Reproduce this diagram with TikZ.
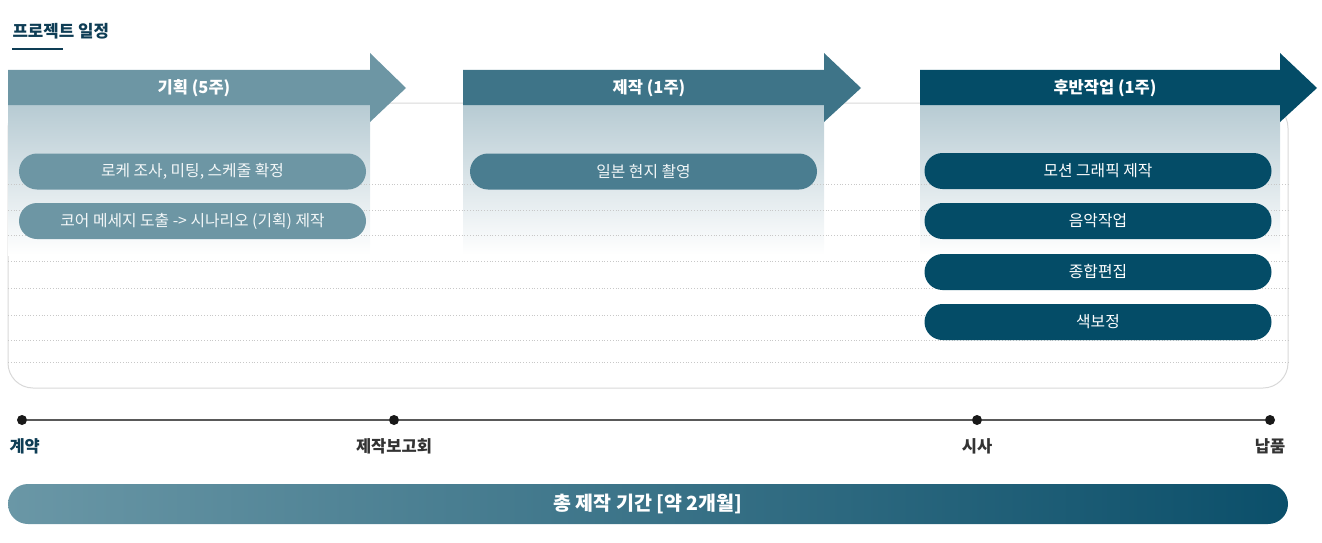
\documentclass[tikz,border=0pt]{standalone}
\usepackage{fontspec}
\setmainfont{Noto Sans CJK KR}
\usepackage{xcolor}
\usepackage{tikz}
\usetikzlibrary{calc, positioning}

\definecolor{planc}{HTML}{6D96A4}
\definecolor{shootc}{HTML}{3E7488}
\definecolor{shootp}{HTML}{4A7D90}
\definecolor{postc}{HTML}{044C67}
\definecolor{titlec}{HTML}{0E3D55}
\definecolor{panelc}{HTML}{B7CBD3}
\definecolor{framec}{HTML}{D8D8D8}
\definecolor{dotc}{HTML}{C8C8C8}
\definecolor{barl}{HTML}{6A97A6}
\definecolor{barr}{HTML}{0B4F6A}

\tikzset{
    phase/.style={font=\bfseries\fontsize{16.5}{19}\selectfont, text=white},
    task/.style={rounded corners=18pt, minimum width=347pt, minimum height=36pt,
        inner sep=0pt, font=\fontsize{15.8}{18}\selectfont, text=white},
    mdot/.style={circle, fill=black!90, minimum size=10pt, inner sep=0pt},
    mile/.style={font=\bfseries\fontsize{16.5}{19}\selectfont, text=black!80},
    grid line/.style={dotc, line width=0.8pt, dotted}
}

\begin{document}
\begin{tikzpicture}[x=1pt, y=-1pt]
    \useasboundingbox (0,0) rectangle (1322,543);

    % Tiêu đề
    \node[anchor=west, font=\bfseries\fontsize{16.8}{19}\selectfont, text=titlec] (title) at (9,31) {프로젝트 일정};
    \draw[titlec, line width=1.1pt] (12,49) -- (63,49);

    % Khung
    \draw[framec, line width=1pt, rounded corners=25pt] (8,103) rectangle (1288,388);

    % Nền chuyển màu
    \shade[top color=panelc, bottom color=white] (8,105) rectangle (370,255);
    \shade[top color=panelc, bottom color=white] (463,105) rectangle (824,255);
    \shade[top color=panelc, bottom color=white] (920,105) rectangle (1280,255);

    % Đường chấm
    \foreach \y in {184,210,235,261,288,315,340,362}
        \draw[grid line] (8,\y) -- (1288,\y);

    % Mũi tên giai đoạn
    \fill[planc] (8,70) -- (370,70) -- (370,53) -- (406,88) -- (370,122) -- (370,105) -- (8,105) -- cycle;
    \fill[shootc] (463,70) -- (824,70) -- (824,53) -- (861,88) -- (824,122) -- (824,105) -- (463,105) -- cycle;
    \fill[postc] (920,70) -- (1280,70) -- (1280,53) -- (1317,88) -- (1280,122) -- (1280,105) -- (920,105) -- cycle;
    \node[phase] (plan) at (194,88) {기획 (5주)};
    \node[phase] (shoot) at (649,88) {제작 (1주)};
    \node[phase] (post) at (1105,88) {후반작업 (1주)};

    % Công việc
    \node[task, fill=planc, text=white!92!planc] (loc) at (192.5,171.5) {로케 조사, 미팅, 스케줄 확정};
    \node[task, fill=planc, text=white!92!planc] (script) at (192.5,221) {코어 메세지 도출 -> 시나리오 (기획) 제작};
    \node[task, fill=shootp, text=white!92!shootp] (japan) at (643.5,171.5) {일본 현지 촬영};
    \node[task, fill=postc] (motion) at (1098,171) {모션 그래픽 제작};
    \node[task, fill=postc] (music) at (1098,221) {음악작업};
    \node[task, fill=postc] (edit) at (1098,272) {종합편집};
    \node[task, fill=postc] (color) at (1098,322) {색보정};

    % Mốc thời gian
    \node[mdot] (m1) at (22,420) {};
    \node[mdot] (m2) at (394,420) {};
    \node[mdot] (m3) at (977,420) {};
    \node[mdot] (m4) at (1270,420) {};
    \draw[black!65, line width=1.6pt] (m1) -- (m2) -- (m3) -- (m4);
    \node[mile, text=titlec, anchor=west] (l1) at (6,446) {계약};
    \node[mile] (l2) at (394,446) {제작보고회};
    \node[mile] (l3) at (977,446) {시사};
    \node[mile] (l4) at (1270,446) {납품};

    % Tổng thời gian
    \node[rounded corners=20pt, minimum width=1280pt, minimum height=40pt, inner sep=0pt,
        left color=barl, right color=barr, text=white,
        font=\bfseries\fontsize{19.5}{22}\selectfont] (total) at (648,504) {총 제작 기간 [약 2개월]};
\end{tikzpicture}
\end{document}
